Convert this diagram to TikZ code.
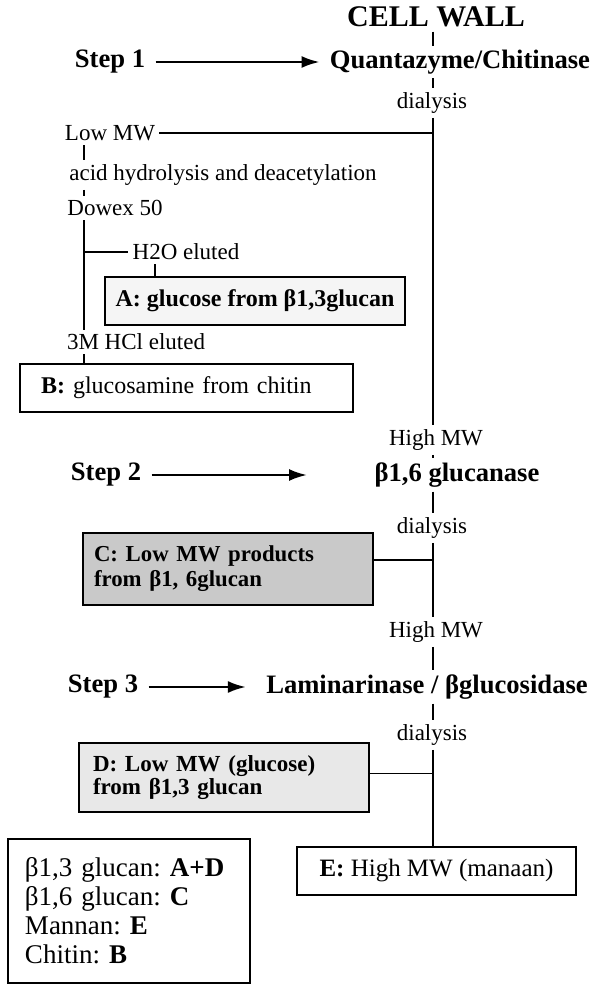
\documentclass[tikz,border=0pt]{standalone}
\usepackage{fontspec}
\setmainfont{Liberation Serif}
\usetikzlibrary{arrows.meta}
\frenchspacing

\begin{document}
\begin{tikzpicture}[x=0.5pt, y=-0.5pt, >=Stealth,
  lbl/.style={inner sep=2pt, font=\fontsize{11.5}{13}\selectfont},
  stage/.style={inner sep=2pt, font=\fontsize{13.3}{15}\selectfont\bfseries},
  outbox/.style={draw, line width=0.9pt, inner ysep=0pt},
  link/.style={line width=0.6pt},
  steparrow/.style={-{Latex[length=9pt,width=6pt]}, line width=1.2pt}]
\useasboundingbox (0,0) rectangle (598,985);

% Guide lines
\coordinate (axis) at (433,0);
\coordinate (col) at (84,0);
\coordinate (tickA) at (155,0);

% Main column
\node[stage, font=\fontsize{15}{17}\selectfont\bfseries] (cellwall) at (436,17) {CELL WALL};
\node[stage] (quanta) at (460,62) {Quantazyme/Chitinase};
\node[lbl] (dial1) at (432,103) {dialysis};
\node[lbl] (highmw1) at (436,440) {High MW};
\node[stage] (glucanase) at (457,475) {β1,6 glucanase};
\node[lbl] (dial2) at (432,528) {dialysis};
\node[lbl] (highmw2) at (436,632) {High MW};
\node[stage] (lamina) at (427,687) {Laminarinase / βglucosidase};
\node[lbl] (dial3) at (432,735) {dialysis};
\node[outbox, minimum width=139.5pt, minimum height=24pt, font=\fontsize{12.5}{14}\selectfont]
  (boxE) at (436.5,871) {\textbf{E:} High MW (manaan)};

% Steps
\node[stage] (step1) at (110,62) {Step 1};
\node[stage] (step2) at (106,475) {Step 2};
\node[stage] (step3) at (103,687) {Step 3};
\coordinate (arr2) at (307,475);
\draw[steparrow, shorten <=3pt, shorten >=3pt] (step1) -- (quanta);
\draw[steparrow, shorten <=3pt] (step2) -- (arr2);
\draw[steparrow, shorten <=3pt, shorten >=8pt] (step3) -- (lamina);

% Low MW branch
\node[lbl] (lowmw) at (110,133) {Low MW};
\node[lbl] (acid) at (223,175) {acid hydrolysis and deacetylation};
\node[lbl] (dowex) at (115,208) {Dowex 50};
\node[lbl] (h2o) at (186,252) {H2O eluted};
\node[lbl] (hcl) at (136,342) {3M HCl eluted};
\node[outbox, line width=1.4pt, fill=gray!8, minimum width=150pt, minimum height=24pt,
  font=\fontsize{12}{14}\selectfont\bfseries] (boxA) at (255,301) {A: glucose from β1,3glucan};
\node[outbox, align=left, text width=145.5pt, inner xsep=10.5pt, minimum height=24pt,
  font=\fontsize{12}{14}\selectfont] (boxB) at (186.5,388) {\textbf{B:} glucosamine from chitin};

% Low MW products
\node[outbox, line width=1.4pt, fill=gray!42, align=left, text width=134pt, inner xsep=5.5pt,
  minimum height=36pt, font=\fontsize{11.4}{12.5}\selectfont\bfseries]
  (boxC) at (228,569) {C: Low MW products\\from β1, 6glucan};
\node[outbox, line width=1.1pt, fill=gray!18, align=left, text width=131pt, inner xsep=7pt,
  minimum height=34.5pt, font=\fontsize{11.5}{11.5}\selectfont\bfseries]
  (boxD) at (224,777.5) {D: Low MW (glucose)\\from β1,3 glucan};

% Summary
\node[outbox, align=left, text width=104pt, inner xsep=8.5pt, minimum height=72pt,
  font=\fontsize{13.5}{14.5}\selectfont] (summary) at (129,911)
  {β1,3 glucan: \textbf{A+D}\\β1,6 glucan: \textbf{C}\\Mannan: \textbf{E}\\Chitin: \textbf{B}};

% Connectors along the main column
\draw[link] (cellwall.south -| axis) -- (quanta.north -| axis);
\draw[link] (quanta.south -| axis) -- (dial1.north -| axis);
\draw[link] (dial1.south -| axis) -- (highmw1.north -| axis);
\draw[link] (highmw1.south -| axis) -- (glucanase.north -| axis);
\draw[link] (glucanase.south -| axis) -- (dial2.north -| axis);
\draw[link] (dial2.south -| axis) -- (highmw2.north -| axis);
\draw[link] (highmw2.south -| axis) -- (lamina.north -| axis);
\draw[link] (lamina.south -| axis) -- (dial3.north -| axis);
\draw[link] (dial3.south -| axis) -- (boxE.north -| axis);

% Side branches
\path ([yshift=4.5pt]boxC.east) coordinate (joinC);
\path ([yshift=2pt]boxD.east) coordinate (joinD);
\draw[link] (lowmw.east) -- (lowmw.east -| axis);
\draw[link] (joinC) -- (joinC -| axis);
\draw[link] (joinD) -- (joinD -| axis);

% Left column
\draw[link] (lowmw.south -| col) -- (acid.north -| col);
\draw[link] (acid.south -| col) -- (dowex.north -| col);
\draw[link] (dowex.south -| col) -- (hcl.north -| col);
\draw[link] (h2o.west -| col) -- (h2o.west);
\draw[link] (h2o.south -| tickA) -- (boxA.north -| tickA);
\draw[link] (hcl.south -| col) -- (boxB.north -| col);
\end{tikzpicture}
\end{document}
